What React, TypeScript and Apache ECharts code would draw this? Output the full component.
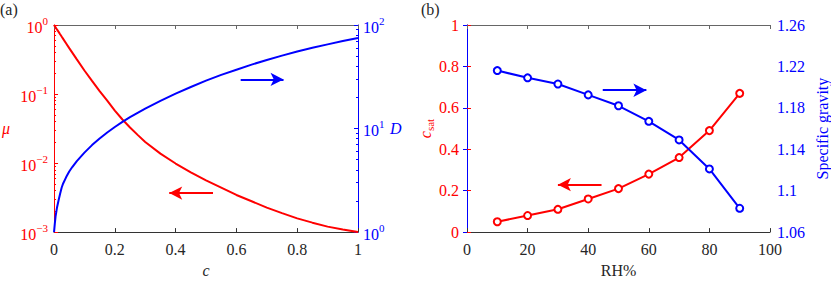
import React, { useEffect, useRef } from "react";
import * as echarts from "echarts";

// ---------- Panel (a) data ----------
const cGrid = [0, 0.0025, 0.005, 0.01, 0.015, 0.02, 0.025, 0.03, 0.04, 0.05, 0.06, 0.075, 0.1, 0.125, 0.15, 0.175, 0.2, 0.225, 0.25, 0.275, 0.3, 0.35, 0.4, 0.45, 0.5, 0.55, 0.6, 0.65, 0.7, 0.75, 0.8, 0.85, 0.9, 0.95, 1];
const muValues = [1, 0.962, 0.925, 0.855, 0.795, 0.735, 0.68, 0.63, 0.54, 0.462, 0.398, 0.318, 0.219, 0.155, 0.11, 0.08, 0.0575, 0.0428, 0.0328, 0.0256, 0.0202, 0.0137, 0.00985, 0.00735, 0.0056, 0.0044, 0.00345, 0.0028, 0.00226, 0.00188, 0.00158, 0.00137, 0.0012, 0.00109, 0.001];
const dValues = [1, 1.2, 1.41, 1.74, 2.03, 2.35, 2.68, 2.95, 3.4, 3.85, 4.25, 4.85, 5.85, 6.92, 8.0, 9.15, 10.35, 11.6, 12.9, 14.2, 15.6, 18.5, 21.7, 25.2, 29.0, 33.0, 37.0, 41.4, 46.0, 50.6, 55.4, 60.2, 65.0, 70.0, 75.0];
const cTicks = [0, 0.2, 0.4, 0.6, 0.8, 1];
const muMajor = [0.001, 0.01, 0.1, 1];
const dMajor = [1, 10, 100];

// ---------- Panel (b) data ----------
const rh = [10, 20, 30, 40, 50, 60, 70, 80, 90];
const cSat = [0.05, 0.08, 0.11, 0.16, 0.21, 0.28, 0.36, 0.49, 0.67];
const specificGravity = [1.216, 1.209, 1.203, 1.1925, 1.182, 1.167, 1.149, 1.121, 1.083];
const rhTicks = [0, 20, 40, 60, 80, 100];
const cSatTicks = [0, 0.2, 0.4, 0.6, 0.8, 1];
const sgTicks = [1.06, 1.1, 1.14, 1.18, 1.22, 1.26];

// ---------- Arrow annotations (data coordinates: [from, to]) ----------
const arrowA_D = [[0.614, 29.8], [0.755, 29.8]];
const arrowA_mu = [[0.523, 0.00367], [0.379, 0.00367]];
const arrowB_sg = [[44.8, 1.197], [59.2, 1.197]];
const arrowB_c = [[44.4, 0.229], [30.0, 0.229]];

const SERIF = "Liberation Serif";
const RED = "#ff0000";
const BLUE = "#0000ff";
const DARK = "#262626";
const TOPC = "#666666";

function minorLog(lo: number, hi: number): number[] {
  const out: number[] = [];
  for (let e = lo; e < hi; e++) {
    for (let k = 2; k <= 9; k++) out.push(+(k * Math.pow(10, e)).toPrecision(6));
  }
  return out;
}

function supLabel(v: number) {
  const e = Math.round(Math.log10(v));
  const s = e < 0 ? "\u2212" + -e : String(e);
  return `{b|10}{s|${s}}`;
}

function richFor(color: string) {
  return {
    b: { fontSize: 16, fontFamily: SERIF, color, lineHeight: 20, verticalAlign: "bottom" },
    s: { fontSize: 11, fontFamily: SERIF, color, lineHeight: 12, verticalAlign: "top" },
  };
}

function arrowLine(color: string, pts: number[][]) {
  return {
    silent: true,
    symbol: ["none", "arrow"],
    symbolSize: [10, 13],
    lineStyle: { color, width: 2, type: "solid" },
    label: { show: false },
    emphasis: { disabled: true },
    data: [[{ coord: pts[0] }, { coord: pts[1] }]],
  };
}

export default function App() {
  const ref = useRef<HTMLDivElement>(null);
  useEffect(() => {
    if (!ref.current) return;
    const chart = echarts.init(ref.current, undefined, { renderer: "svg" });
    const tickFont = { fontFamily: SERIF, fontSize: 16 };
    const option: any = {
      animation: false,
      backgroundColor: "#ffffff",
      textStyle: { fontFamily: SERIF },
      grid: [
        { left: 52, top: 25, width: 306, height: 218 },
        { left: 467, top: 25, width: 306, height: 218 },
      ],
      graphic: [
        { type: "text", left: 0, top: 1, style: { text: "(a)", fontFamily: SERIF, fontSize: 16, fill: DARK } },
        { type: "text", left: 421, top: 1, style: { text: "(b)", fontFamily: SERIF, fontSize: 16, fill: DARK } },
      ],
      xAxis: [
        {
          gridIndex: 0, type: "value", min: 0, max: 1, position: "bottom",
          name: "c", nameLocation: "middle", nameGap: 24,
          nameTextStyle: { fontFamily: SERIF, fontSize: 16, fontStyle: "italic", color: DARK },
          axisLine: { lineStyle: { color: "#333333", width: 1 } },
          axisTick: { inside: true, length: 4, customValues: cTicks, lineStyle: { color: "#333333" } },
          axisLabel: { ...tickFont, color: DARK, margin: 9, customValues: cTicks, formatter: (v: number) => String(v) },
          splitLine: { show: false },
        },
        {
          gridIndex: 0, type: "value", min: 0, max: 1, position: "top",
          axisLine: { lineStyle: { color: TOPC, width: 1 } },
          axisTick: { inside: true, length: 4, customValues: cTicks, lineStyle: { color: TOPC } },
          axisLabel: { show: false },
          splitLine: { show: false },
        },
        {
          gridIndex: 1, type: "value", min: 0, max: 100, position: "bottom",
          name: "RH%", nameLocation: "middle", nameGap: 24,
          nameTextStyle: { fontFamily: SERIF, fontSize: 16, color: DARK },
          axisLine: { lineStyle: { color: "#333333", width: 1 } },
          axisTick: { inside: true, length: 4, customValues: rhTicks, lineStyle: { color: "#333333" } },
          axisLabel: { ...tickFont, color: DARK, margin: 9, customValues: rhTicks },
          splitLine: { show: false },
        },
        {
          gridIndex: 1, type: "value", min: 0, max: 100, position: "top",
          axisLine: { lineStyle: { color: TOPC, width: 1 } },
          axisTick: { inside: true, length: 4, customValues: rhTicks, lineStyle: { color: TOPC } },
          axisLabel: { show: false },
          splitLine: { show: false },
        },
      ],
      yAxis: [
        {
          gridIndex: 0, type: "log", logBase: 10, min: 0.001, max: 1, position: "left",
          name: "\u03bc", nameLocation: "middle", nameGap: 44, nameRotate: 0,
          nameTextStyle: { fontFamily: SERIF, fontSize: 16, fontStyle: "italic", color: RED, padding: [6, 0, 0, 0] },
          axisLine: { lineStyle: { color: RED, width: 1 } },
          axisTick: { inside: true, length: 4, customValues: muMajor, lineStyle: { color: RED } },
          axisLabel: { margin: 6, customValues: muMajor, formatter: supLabel, rich: richFor(RED), color: RED },
          splitLine: { show: false },
        },
        {
          gridIndex: 0, type: "log", logBase: 10, min: 0.001, max: 1, position: "left",
          axisLine: { show: false },
          axisTick: { inside: true, length: 2, customValues: minorLog(-3, 0), lineStyle: { color: RED } },
          axisLabel: { show: false },
          splitLine: { show: false },
        },
        {
          gridIndex: 0, type: "log", logBase: 10, min: 1, max: 100, position: "right",
          name: "D", nameLocation: "middle", nameGap: 32, nameRotate: 0,
          nameTextStyle: { fontFamily: SERIF, fontSize: 16, fontStyle: "italic", color: BLUE, padding: [4, 0, 0, 0] },
          axisLine: { lineStyle: { color: BLUE, width: 1 } },
          axisTick: { inside: true, length: 4, customValues: dMajor, lineStyle: { color: BLUE } },
          axisLabel: { margin: 5, customValues: dMajor, formatter: supLabel, rich: richFor(BLUE), color: BLUE },
          splitLine: { show: false },
        },
        {
          gridIndex: 0, type: "log", logBase: 10, min: 1, max: 100, position: "right",
          axisLine: { show: false },
          axisTick: { inside: true, length: 2, customValues: minorLog(0, 2), lineStyle: { color: BLUE } },
          axisLabel: { show: false },
          splitLine: { show: false },
        },
        {
          gridIndex: 1, type: "value", min: 0, max: 1, position: "left",
          name: "{i|c}{sub|sat}", nameLocation: "middle", nameGap: 27, nameRotate: 90,
          nameTextStyle: {
            color: RED,
            rich: {
              i: { fontFamily: SERIF, fontSize: 16, fontStyle: "italic", color: RED, lineHeight: 18, verticalAlign: "top" },
              sub: { fontFamily: SERIF, fontSize: 11, color: RED, lineHeight: 12, verticalAlign: "bottom" },
            },
          },
          axisLine: { lineStyle: { color: RED, width: 1 } },
          axisTick: { inside: true, length: 4, customValues: cSatTicks, lineStyle: { color: RED } },
          axisLabel: { ...tickFont, color: RED, margin: 8, customValues: cSatTicks },
          splitLine: { show: false },
        },
        {
          gridIndex: 1, type: "value", min: 1.06, max: 1.26, position: "right",
          name: "Specific gravity", nameLocation: "middle", nameGap: 44, nameRotate: 90,
          nameTextStyle: { fontFamily: SERIF, fontSize: 16, color: BLUE },
          axisLine: { lineStyle: { color: BLUE, width: 1 } },
          axisTick: { inside: true, length: 4, customValues: sgTicks, lineStyle: { color: BLUE } },
          axisLabel: {
            ...tickFont, color: BLUE, margin: 7, customValues: sgTicks,
            formatter: (v: number) => String(parseFloat(v.toFixed(2))),
          },
          splitLine: { show: false },
        },
      ],
      series: [
        {
          type: "line", xAxisIndex: 0, yAxisIndex: 0, name: "mu",
          data: cGrid.map((c, i) => [c, muValues[i]]),
          showSymbol: false, smooth: false, lineStyle: { color: RED, width: 2 },
          itemStyle: { color: RED }, emphasis: { disabled: true }, silent: true,
          markLine: arrowLine(RED, arrowA_mu),
        },
        {
          type: "line", xAxisIndex: 0, yAxisIndex: 2, name: "D",
          data: cGrid.map((c, i) => [c, dValues[i]]),
          showSymbol: false, smooth: false, lineStyle: { color: BLUE, width: 2 },
          itemStyle: { color: BLUE }, emphasis: { disabled: true }, silent: true,
          markLine: arrowLine(BLUE, arrowA_D),
        },
        {
          type: "line", xAxisIndex: 2, yAxisIndex: 4, name: "csat",
          data: rh.map((x, i) => [x, cSat[i]]),
          symbol: "emptyCircle", symbolSize: 7, showSymbol: true,
          lineStyle: { color: RED, width: 2 },
          itemStyle: { color: RED, borderColor: RED, borderWidth: 1.5 },
          emphasis: { disabled: true }, silent: true,
          markLine: arrowLine(RED, arrowB_c),
        },
        {
          type: "line", xAxisIndex: 2, yAxisIndex: 5, name: "sg",
          data: rh.map((x, i) => [x, specificGravity[i]]),
          symbol: "emptyCircle", symbolSize: 7, showSymbol: true,
          lineStyle: { color: BLUE, width: 2 },
          itemStyle: { color: BLUE, borderColor: BLUE, borderWidth: 1.5 },
          emphasis: { disabled: true }, silent: true,
          markLine: arrowLine(BLUE, arrowB_sg),
        },
      ],
    };
    chart.setOption(option);
    return () => chart.dispose();
  }, []);
  return (
    <div
      ref={ref}
      style={{ position: "absolute", left: 0, top: 0, width: 831, height: 283, background: "#fff" }}
    />
  );
}
